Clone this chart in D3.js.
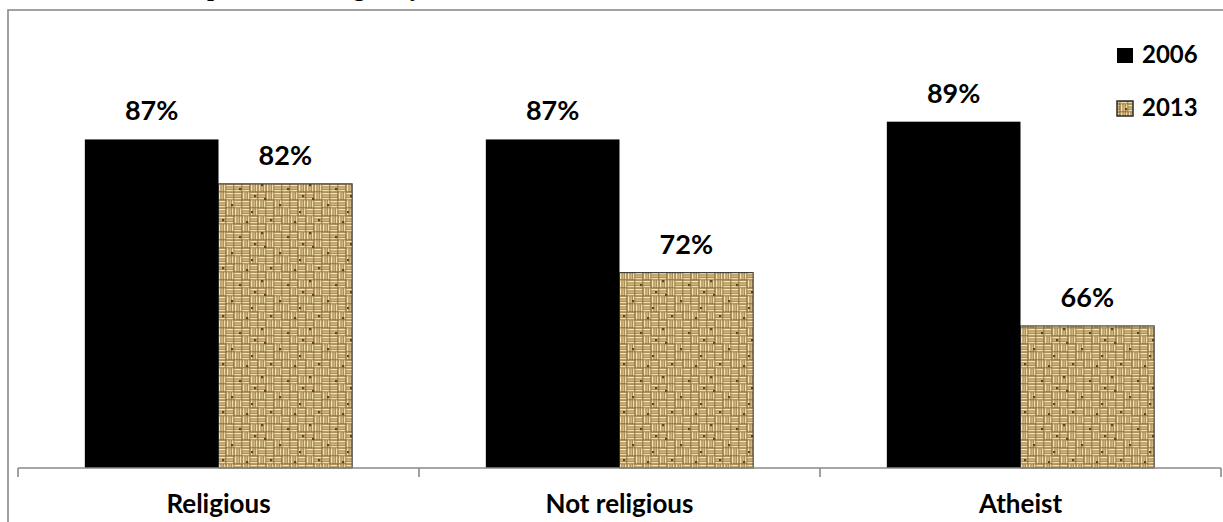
<!DOCTYPE html>
<html>
<head>
<meta charset="utf-8">
<script src="https://cdn.jsdelivr.net/npm/d3@7"></script>
<style>
  html, body { margin: 0; padding: 0; background: #fff; }
  svg { display: block; }
  .lbl { font-family: Lato, "Open Sans", sans-serif; font-weight: 700; fill: #000; }
</style>
</head>
<body>
<svg id="chart" width="1223" height="522"></svg>
<script>
// Share of respondents by religiosity group, 2006 vs 2013
const categories = ["Religious", "Not religious", "Atheist"];
const years = ["2006", "2013"];
const values2006 = [87, 87, 89];
const values2013 = [82, 72, 66];
const titleText = "Respondents' religiosity";

const W = 1223, H = 522;
const svg = d3.select("#chart");

// Woven burlap texture for the 2013 series (irregular basket weave of short strands)
const defs = svg.append("defs");
const cell = 8;
const weave = [
  [1, 0, 1, 1, 0, 1],
  [0, 1, 0, 1, 1, 0],
  [1, 1, 0, 0, 1, 0],
  [0, 1, 1, 0, 0, 1],
  [1, 0, 0, 1, 0, 1],
  [0, 0, 1, 1, 1, 0]
];
const T = cell * weave.length;
defs.append("filter").attr("id", "soft")
  .attr("x", 0).attr("y", 0).attr("width", 1).attr("height", 1)
  .append("feGaussianBlur").attr("stdDeviation", 0.5);
const pat = defs.append("pattern")
  .attr("id", "burlap")
  .attr("patternUnits", "userSpaceOnUse")
  .attr("width", T).attr("height", T);
const pg = pat.append("g").attr("filter", "url(#soft)");
pg.append("rect").attr("width", T).attr("height", T).attr("fill", "#8f6e3a");
const strands = [[0.7, 1.8, "#f4e4b5"], [3.3, 1.6, "#d8bd84"], [5.7, 1.7, "#efdca8"]];
weave.forEach((row, r) => row.forEach((h, c) => {
  const x0 = c * cell, y0 = r * cell;
  strands.forEach(([off, th, col]) => {
    if (h) {
      pg.append("rect").attr("x", x0 + 0.3).attr("y", y0 + off).attr("width", cell - 1).attr("height", th).attr("fill", col);
    } else {
      pg.append("rect").attr("x", x0 + off).attr("y", y0 + 0.3).attr("width", th).attr("height", cell - 1).attr("fill", col);
    }
  });
}));
[[6, 6], [21, 12], [12, 27], [36, 29], [3, 40], [44, 3], [29, 44], [41, 19]].forEach(([x, y]) => {
  pg.append("rect").attr("x", x).attr("y", y).attr("width", 2.2).attr("height", 2.2).attr("fill", "#5e4420");
});

// Outer chart frame (extends past the right and bottom edges)
svg.append("rect")
  .attr("x", 8).attr("y", 10)
  .attr("width", W + 20).attr("height", H + 20)
  .attr("fill", "none").attr("stroke", "#8a8a8a").attr("stroke-width", 1.6);

// Title, sitting above the visible area
svg.append("text")
  .attr("x", 168).attr("y", -4)
  .attr("font-family", "'Liberation Serif', 'DejaVu Serif', serif")
  .attr("font-weight", 700).attr("font-size", 25)
  .attr("fill", "#000")
  .text(titleText);

// Scales
const x0 = d3.scaleBand().domain(categories).range([18, 1221]).paddingInner(0).paddingOuter(0);
const x1 = d3.scaleBand().domain(years).range([0, x0.bandwidth()]).paddingInner(0).paddingOuter(0.5);
const y = d3.scaleLinear().domain([50, 100]).range([468, 24]);
const fills = { "2006": "#000", "2013": "url(#burlap)" };

const rows = categories.map((c, i) => ({ cat: c, vals: [
  { year: "2006", v: values2006[i] },
  { year: "2013", v: values2013[i] }
]}));

const g = svg.append("g");
const grp = g.selectAll("g.cat").data(rows).join("g")
  .attr("class", "cat")
  .attr("transform", d => `translate(${x0(d.cat)},0)`);

grp.selectAll("rect").data(d => d.vals).join("rect")
  .attr("x", d => x1(d.year))
  .attr("y", d => y(d.v))
  .attr("width", x1.bandwidth())
  .attr("height", d => y.range()[0] - y(d.v))
  .attr("fill", d => fills[d.year])
  .attr("stroke", d => d.year === "2013" ? "#2a2a2a" : "none")
  .attr("stroke-width", 1);

grp.selectAll("text").data(d => d.vals).join("text")
  .attr("class", "lbl")
  .attr("x", d => x1(d.year) + x1.bandwidth() / 2)
  .attr("y", d => y(d.v) - 19)
  .attr("text-anchor", "middle")
  .attr("font-size", 27)
  .text(d => d.v + "%");

// Category axis with tick marks at band edges
const axisY = y.range()[0];
g.append("line")
  .attr("x1", 18).attr("x2", 1221)
  .attr("y1", axisY).attr("y2", axisY)
  .attr("stroke", "#8a8a8a").attr("stroke-width", 1.6);
const edges = categories.map(c => x0(c)).concat([x0.range()[1]]);
g.selectAll("line.tick").data(edges).join("line")
  .attr("class", "tick")
  .attr("x1", d => d).attr("x2", d => d)
  .attr("y1", axisY).attr("y2", axisY + 9)
  .attr("stroke", "#8a8a8a").attr("stroke-width", 1.6);
g.selectAll("text.cat").data(categories).join("text")
  .attr("class", "lbl cat")
  .attr("x", d => x0(d) + x0.bandwidth() / 2)
  .attr("y", 513)
  .attr("text-anchor", "middle")
  .attr("font-size", 26)
  .text(d => d);

// Legend
const leg = svg.append("g");
years.forEach((yr, i) => {
  const ly = 48 + i * 53;
  leg.append("rect")
    .attr("x", 1117).attr("y", ly)
    .attr("width", 16).attr("height", 15)
    .attr("fill", fills[yr])
    .attr("stroke", yr === "2013" ? "#2a2a2a" : "none")
    .attr("stroke-width", 1.5);
  leg.append("text")
    .attr("class", "lbl")
    .attr("x", 1142).attr("y", ly + 15)
    .attr("font-size", 24)
    .text(yr);
});
</script>
</body>
</html>
